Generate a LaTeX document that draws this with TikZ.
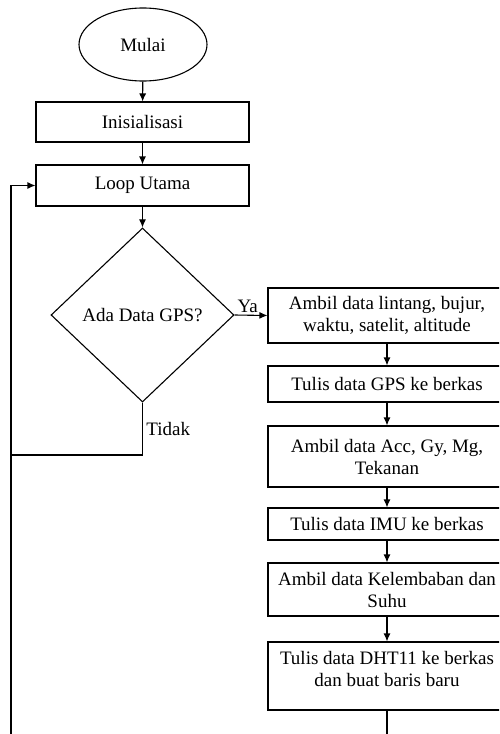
\documentclass[tikz,border=0pt]{standalone}
\usepackage{fontspec}
\setmainfont{Liberation Serif}
\usetikzlibrary{shapes.geometric, arrows.meta}

\begin{document}
\begin{tikzpicture}[x=1pt, y=-1pt, line width=1.1pt, >={Latex[length=8pt, width=7pt]},
  every node/.style={font=\fontsize{19}{22}\selectfont},
  kotak/.style={draw, rectangle, inner sep=0pt, align=center},
  kotakkanan/.style={kotak, minimum width=238pt}]
  \path[use as bounding box, clip] (0,0) rectangle (499,734);

  % kolom kiri
  \node[draw, ellipse, inner sep=0pt, minimum width=128pt, minimum height=73pt] (mulai) at (143,44.5) {Mulai};
  \node[kotak, minimum width=213pt, minimum height=40pt] (init) at (142.5,122) {Inisialisasi};
  \node[kotak, minimum width=213pt, minimum height=41pt] (loop) at (142.5,185.5) {Loop Utama};
  \node[draw, diamond, inner sep=0pt, minimum width=183pt, minimum height=174pt] (gps) at (142.5,315) {Ada Data GPS?};

  % kolom kanan
  \node[kotakkanan, minimum height=55pt] (lintang) at (387,315.5) {Ambil data lintang, bujur,\\ waktu, satelit, altitude};
  \node[kotakkanan, minimum height=36pt] (tulisgps) at (387,384) {Tulis data GPS ke berkas};
  \node[kotakkanan, minimum height=61pt] (imu) at (387,456.5) {Ambil data Acc, Gy, Mg,\\ Tekanan};
  \node[kotakkanan, minimum height=32pt] (tulisimu) at (387,524) {Tulis data IMU ke berkas};
  \node[kotakkanan, minimum height=53pt] (dht) at (387,589.5) {Ambil data Kelembaban dan\\ Suhu};
  \node[kotakkanan, minimum height=68pt,
    label={[align=center, yshift=7pt]center:Tulis data DHT11 ke berkas\\ dan buat baris baru}] (tulisdht) at (387,676) {};

  \coordinate (tidakkiri) at (11,455);
  \coordinate (bawahkanan) at (387,760);
  \coordinate (bawahkiri) at (11,760);

  \draw[->] (mulai) -- (init);
  \draw[->] (init) -- (loop);
  \draw[->] (loop) -- (gps);
  \draw[->] (gps.east) -- node[pos=0.4, above, inner sep=2pt] {Ya} (lintang.west);
  \draw (gps.south) |- node[pos=0.25, right] {Tidak} (tidakkiri);

  \draw[->] (lintang) -- (tulisgps);
  \draw[->] (tulisgps) -- (imu);
  \draw[->] (imu) -- (tulisimu);
  \draw[->] (tulisimu) -- (dht);
  \draw[->] (dht) -- (tulisdht);
  \draw[->] (tulisdht.south) -- (bawahkanan) -- (bawahkiri) |- (loop.west);
\end{tikzpicture}
\end{document}
